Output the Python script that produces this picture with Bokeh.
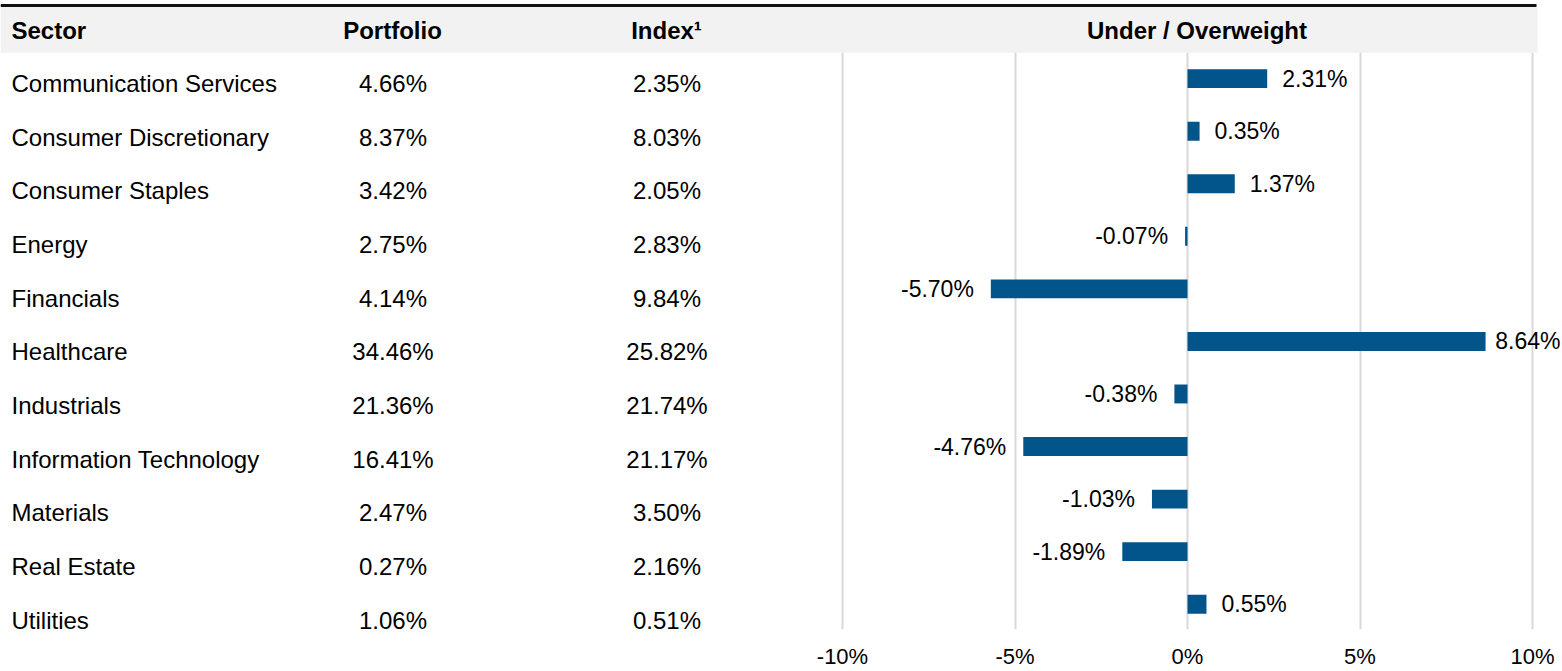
from bokeh.plotting import figure
from bokeh.models import Range1d, FixedTicker, ColumnDataSource
from bokeh.core.properties import value
from bokeh.embed import file_html
from bokeh.resources import INLINE

# ---------------- data ----------------
sectors = ["Communication Services", "Consumer Discretionary", "Consumer Staples",
           "Energy", "Financials", "Healthcare", "Industrials",
           "Information Technology", "Materials", "Real Estate", "Utilities"]
portfolio = [4.66, 8.37, 3.42, 2.75, 4.14, 34.46, 21.36, 16.41, 2.47, 0.27, 1.06]
index_w = [2.35, 8.03, 2.05, 2.83, 9.84, 25.82, 21.74, 21.17, 3.50, 2.16, 0.51]
diff = [2.31, 0.35, 1.37, -0.07, -5.70, 8.64, -0.38, -4.76, -1.03, -1.89, 0.55]
headers = ["Sector", "Portfolio", "Index\u00b9", "Under / Overweight"]
tick_vals = [-10, -5, 0, 5, 10]
tick_labels = ["-10%", "-5%", "0%", "5%", "10%"]

# ---------------- geometry helpers (pixel -> data) ----------------
W, H = 1562, 671
PXU = 34.5          # px per percentage point
ZERO = 1187         # pixel of 0%
BAND_TOP = 52
ROW = 52.727        # px per bar category
FRAME_BOTTOM = 631


def px_x(r):
    return (r - ZERO) / PXU


def px_y(r):
    return (r - BAND_TOP) / ROW


FONT = value("Liberation Sans")
BLUE = "#02558b"
FS = "24px"
LFS = 23  # bar label font size (px)

# approximate advance widths (em) for Liberation Sans, used to keep labels inside the canvas
CW = {".": 0.278, "%": 0.889, "-": 0.333}


def text_w(s, size):
    return sum(CW.get(c, 0.556) for c in s) * size


p = figure(width=W, height=H,
           x_range=Range1d(px_x(0), px_x(W)),
           y_range=Range1d(px_y(FRAME_BOTTOM), px_y(0)),
           output_backend="svg", toolbar_location=None,
           x_axis_location="below", y_axis_location=None,
           min_border_left=0, min_border_right=0, min_border_top=0,
           min_border_bottom=H - FRAME_BOTTOM, outline_line_color=None,
           background_fill_color="white", border_fill_color="white")

# axis
p.xaxis.ticker = FixedTicker(ticks=tick_vals)
p.xaxis.major_label_overrides = {v: lab for v, lab in zip(tick_vals, tick_labels)}
p.xaxis.axis_line_color = None
p.xaxis.major_tick_line_color = None
p.xaxis.minor_tick_line_color = None
p.xaxis.major_tick_out = 0
p.xaxis.major_tick_in = 0
p.xaxis.major_label_standoff = 14
p.xaxis.major_label_text_font = "Liberation Sans"
p.xaxis.major_label_text_font_size = "22px"
p.xaxis.major_label_text_color = "#000000"

p.xgrid.grid_line_color = "#d9d9d9"
p.xgrid.grid_line_width = 2
p.ygrid.visible = False

# blank strip above the rule, header band + top rule
p.quad(left=[px_x(0)], right=[px_x(W)], top=[px_y(-2)], bottom=[px_y(4)],
       fill_color="white", line_color=None)
p.quad(left=[px_x(0)], right=[px_x(1537)], top=[px_y(6.5)], bottom=[px_y(52.5)],
       fill_color="#f2f2f2", line_color=None)
p.quad(left=[px_x(0)], right=[px_x(1536)], top=[px_y(3.5)], bottom=[px_y(6.5)],
       fill_color="#111111", line_color=None)

# header texts
hy = px_y(30)
p.text(x=[px_x(11)], y=[hy], text=[headers[0]], text_font=FONT, text_font_size=FS,
       text_font_style="bold", text_align="left", text_baseline="middle", text_color="#000000")
p.text(x=[px_x(392), px_x(666), px_x(1196.5)], y=[hy] * 3, text=headers[1:],
       text_font=FONT, text_font_size=FS, text_font_style="bold",
       text_align="center", text_baseline="middle", text_color="#000000")

# table rows
n = len(sectors)
row_y = [px_y(83.5 + 53.8 * i) for i in range(n)]
p.text(x=[px_x(11)] * n, y=row_y, text=sectors, text_font=FONT, text_font_size=FS,
       text_align="left", text_baseline="middle", text_color="#000000")
p.text(x=[px_x(392.5)] * n, y=row_y, text=["%.2f%%" % v for v in portfolio], text_font=FONT,
       text_font_size=FS, text_align="center", text_baseline="middle", text_color="#000000")
p.text(x=[px_x(666.5)] * n, y=row_y, text=["%.2f%%" % v for v in index_w], text_font=FONT,
       text_font_size=FS, text_align="center", text_baseline="middle", text_color="#000000")

# bars
bar_y = [i + 0.5 for i in range(n)]
src = ColumnDataSource(dict(y=bar_y, d=diff))
p.hbar(y="y", left=0, right="d", height=0.36, source=src, fill_color=BLUE, line_color=None)

# value labels: positives to the right, negatives to the left, kept inside the canvas
pos = [i for i in range(n) if diff[i] >= 0]
neg = [i for i in range(n) if diff[i] < 0]
pos_txt = ["%.2f%%" % diff[i] for i in pos]
pos_off = []
for i, t in zip(pos, pos_txt):
    end_px = ZERO + diff[i] * PXU
    room = (W - 2) - end_px - text_w(t, LFS)
    pos_off.append(min(15, room))
p.text(x=[diff[i] for i in pos], y=[bar_y[i] for i in pos], text=pos_txt,
       x_offset=pos_off, text_font=FONT, text_font_size="%dpx" % LFS, text_align="left",
       text_baseline="middle", text_color="#000000")
p.text(x=[diff[i] for i in neg], y=[bar_y[i] for i in neg], text=["%.2f%%" % diff[i] for i in neg],
       x_offset=-17, text_font=FONT, text_font_size="%dpx" % LFS, text_align="right",
       text_baseline="middle", text_color="#000000")

open("out.html", "w").write(file_html(p, INLINE))
